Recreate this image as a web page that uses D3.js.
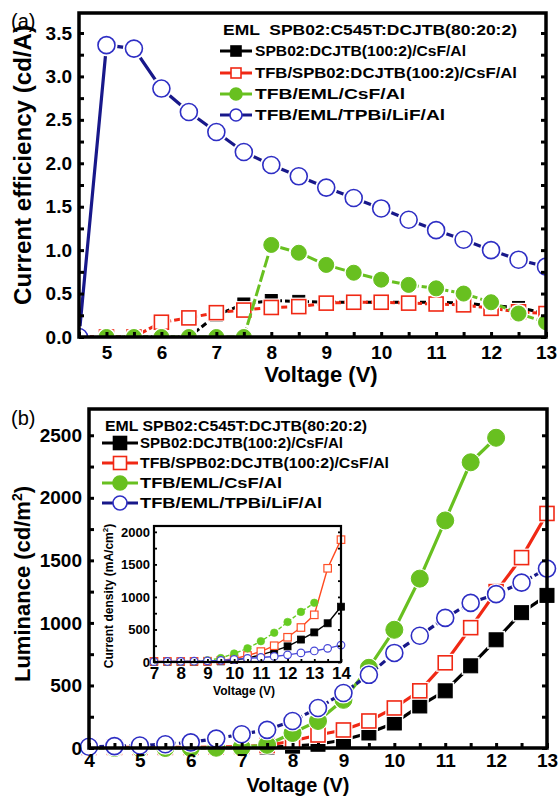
<!DOCTYPE html>
<html><head><meta charset="utf-8">
<script src="https://cdn.jsdelivr.net/npm/d3@7"></script>
<style>
body{margin:0;background:#fff;}
text{font-family:"Liberation Sans",Arial,Helvetica,sans-serif;}
</style></head><body>
<svg id="c" width="558" height="797" xmlns="http://www.w3.org/2000/svg"></svg>
<script>
// ---------- DATA ----------
const seriesNames = ["SPB02:DCJTB(100:2)/CsF/Al","TFB/SPB02:DCJTB(100:2)/CsF/Al","TFB/EML/CsF/Al","TFB/EML/TPBi/LiF/Al"];
const seriesNamesB = ["SPB02:DCJTB(100:2)/CsF/Al","TFB/SPB02:DCJTB(100:2)/CsF/Al","TFB/EML/CsF/Al","TFB/EML/TPBi/LiF/Al"];
const emlTitleA = "EML  SPB02:C545T:DCJTB(80:20:2)";
const emlTitleB = "EML SPB02:C545T:DCJTB(80:20:2)";

// (a) current efficiency (cd/A) vs voltage
const voltageA = [4.5,5,5.5,6,6.5,7,7.5,8,8.5,9,9.5,10,10.5,11,11.5,12,12.5,13];
const ceBlack = [0,0,0,0,0,0.25,0.38,0.42,0.41,0.40,0.40,0.40,0.40,0.40,0.39,0.36,0.34,0.27];
const ceRed   = [0,0,0,0.17,0.22,0.28,0.31,0.34,0.35,0.39,0.40,0.40,0.39,0.38,0.37,0.33,0.29,0.27];
const ceGreen = [null,0,0,0,0,0,0,1.06,0.97,0.83,0.74,0.66,0.60,0.56,0.50,0.40,0.27,0.17];
const ceBlue  = [0,3.36,3.32,2.86,2.59,2.36,2.13,1.98,1.85,1.72,1.60,1.48,1.35,1.23,1.12,1.00,0.89,0.81];
const ticksAX = [5,6,7,8,9,10,11,12,13];
const ticksAY = [0,0.5,1.0,1.5,2.0,2.5,3.0,3.5];

// (b) luminance (cd/m2) vs voltage
const voltageB = [4,4.5,5,5.5,6,6.5,7,7.5,8,8.5,9,9.5,10,10.5,11,11.5,12,12.5,13];
const lumBlack = [2,2,2,2,3,3,5,5,15,30,64,120,200,336,457,657,865,1082,1220];
const lumRed   = [5,5,5,5,5,8,12,20,56,104,144,216,320,457,681,962,1250,1522,1875];
const lumGreen = [0,0,0,0,0,2,5,25,120,216,385,641,945,1354,1819,2284,2480,null,null];
const lumBlue  = [10,15,20,30,45,75,110,145,216,320,440,585,760,897,1040,1160,1230,1322,1434];
const ticksBX = [4,5,6,7,8,9,10,11,12,13];
const ticksBY = [0,500,1000,1500,2000,2500];

// inset: current density (mA/cm2) vs voltage
const voltageI = [7,7.5,8,8.5,9,9.5,10,10.5,11,11.5,12,12.5,13,13.5,14];
const jBlack = [0,0,0,0,5,10,30,60,110,170,240,345,455,595,850];
const jRed   = [10,10,10,10,12,25,50,100,160,250,380,530,725,1440,1880];
const jGreen = [5,5,5,10,25,60,130,210,320,450,615,770,910,null,null];
const jBlue  = [5,8,10,12,18,25,40,55,70,85,110,140,170,210,260];
const ticksIX = [7,8,9,10,11,12,13,14];
const ticksIY = [0,500,1000,1500,2000];

// ---------- STYLE ----------
const COL = {black:"#000000", red:"#f02814", green:"#68c020", blue:"#2e2ec4", navy:"#18188a"};
const svg = d3.select("#c");
const FONT = '"Liberation Sans",Arial,Helvetica,sans-serif';

function range(a,b,s){const r=[];for(let v=a;v<=b+1e-9;v+=s)r.push(+v.toFixed(4));return r;}
function zip(xs,ys){return xs.map((x,i)=>({x:x,y:ys[i]}));}

function marker(g, type, cx, cy, size, color, sw, halo){
  if(type==="sq"||type==="osq"){
    if(halo) g.append("rect").attr("x",cx-size/2-halo).attr("y",cy-size/2-halo).attr("width",size+2*halo).attr("height",size+2*halo).attr("fill","#fff");
    g.append("rect").attr("x",cx-size/2).attr("y",cy-size/2).attr("width",size).attr("height",size)
      .attr("fill",type==="sq"?color:"#fff").attr("stroke",color).attr("stroke-width",sw);
  } else {
    if(halo) g.append("circle").attr("cx",cx).attr("cy",cy).attr("r",size+halo).attr("fill","#fff");
    g.append("circle").attr("cx",cx).attr("cy",cy).attr("r",size)
      .attr("fill",type==="dot"?color:"#fff").attr("stroke",color).attr("stroke-width",sw);
  }
}

function drawSeries(g, x, y, pts, s){
  const line = d3.line().defined(d=>d.y!=null).x(d=>x(d.x)).y(d=>y(d.y));
  g.append("path").datum(pts).attr("d",line).attr("fill","none")
    .attr("stroke",s.lineColor).attr("stroke-width",s.lw)
    .attr("stroke-dasharray",s.dash||null);
  const mg = g.append("g");
  pts.filter(d=>d.y!=null).forEach(d=>marker(mg,s.type,x(d.x),y(d.y),s.size,s.color,s.sw,s.halo));
}

function axes(g, x, y, o){
  const bx = d3.axisBottom(x).tickValues(o.xAll).tickSize(-o.tl).tickPadding(o.xpad)
    .tickFormat(d=>o.xLab.includes(d)?d:"");
  const gb = g.append("g").attr("transform",`translate(0,${y.range()[0]})`).call(bx);
  const ly = d3.axisLeft(y).tickValues(o.yAll).tickSize(-o.tl).tickPadding(o.ypad)
    .tickFormat(d=>o.yLab.includes(d)?o.yFmt(d):"");
  const gl = g.append("g").attr("transform",`translate(${x.range()[0]},0)`).call(ly);
  const ry = d3.axisRight(y).tickValues(o.yAll).tickSize(-o.tl).tickFormat("");
  const gr = g.append("g").attr("transform",`translate(${x.range()[1]},0)`).call(ry);
  [gb,gl,gr].forEach(a=>{
    a.select(".domain").remove();
    a.selectAll(".tick line").attr("stroke","#000").attr("stroke-width",o.tw);
  });
  gb.selectAll("text").attr("font-size",o.xfs).attr("font-weight","bold").attr("font-family",FONT).attr("fill","#000");
  gl.selectAll("text").attr("font-size",o.yfs).attr("font-weight","bold").attr("font-family",FONT).attr("fill","#000");
  g.append("rect").attr("x",x.range()[0]).attr("y",y.range()[1])
    .attr("width",x.range()[1]-x.range()[0]).attr("height",y.range()[0]-y.range()[1])
    .attr("fill","none").attr("stroke","#000").attr("stroke-width",o.fw);
}

function legend(g, o){
  g.append("text").attr("x",o.x0).attr("y",o.titleY).attr("font-size",o.fs).attr("font-weight","bold")
    .attr("textLength",o.titleLen).attr("lengthAdjust","spacingAndGlyphs").style("white-space","pre").text(o.title);
  o.items.forEach((it,i)=>{
    const cy = o.rowY[i];
    g.append("line").attr("x1",o.lx1).attr("x2",o.lx2).attr("y1",cy).attr("y2",cy)
      .attr("stroke",it.lineColor).attr("stroke-width",3);
    marker(g,it.type,(o.lx1+o.lx2)/2,cy,it.type.includes("sq")?o.sq:o.r,it.color,1.6,0);
    g.append("text").attr("x",o.tx).attr("y",cy+o.fs*0.36).attr("font-size",o.fs).attr("font-weight","bold")
      .attr("textLength",o.lens[i]).attr("lengthAdjust","spacingAndGlyphs").text(it.name);
  });
}

// ---------- PANEL (a) ----------
{
  const x = d3.scaleLinear().domain([4.5,13]).range([79,546]);
  const y = d3.scaleLinear().domain([0,3.73]).range([337,13]);
  const g = svg.append("g");
  svg.append("defs").append("clipPath").attr("id","clipA").append("rect")
    .attr("x",79).attr("y",13).attr("width",467).attr("height",324);
  const dg = g.append("g").attr("clip-path","url(#clipA)");
  drawSeries(dg,x,y,zip(voltageA,ceBlack),{type:"sq",size:12,color:COL.black,lineColor:COL.black,lw:3,sw:1,halo:2,dash:"6,3"});
  drawSeries(dg,x,y,zip(voltageA,ceRed),{type:"osq",size:14,color:COL.red,lineColor:COL.red,lw:3,sw:1.6,halo:2,dash:"6,3"});
  drawSeries(dg,x,y,zip(voltageA,ceGreen),{type:"dot",size:7.5,color:COL.green,lineColor:COL.green,lw:3,sw:1,halo:2,dash:"12,3"});
  drawSeries(dg,x,y,zip(voltageA,ceBlue),{type:"circ",size:8.5,color:COL.blue,lineColor:COL.navy,lw:3.2,sw:1.6,halo:2.5});
  axes(g,x,y,{xAll:range(4.5,13,0.5),xLab:ticksAX,yAll:range(0,3.5,0.25),yLab:ticksAY,
    yFmt:d3.format(".1f"),tl:5,tw:3,xpad:9,ypad:7,xfs:19,yfs:19,fw:3.5});
  legend(g,{x0:223,titleY:35,fs:15,title:emlTitleA,titleLen:294,lx1:220,lx2:252,tx:255,
    rowY:[51,73,94,115],sq:10,r:6,lens:[211,262,150,190],
    items:[
      {name:seriesNames[0],type:"sq",color:COL.black,lineColor:COL.black},
      {name:seriesNames[1],type:"osq",color:COL.red,lineColor:COL.red},
      {name:seriesNames[2],type:"dot",color:COL.green,lineColor:COL.green},
      {name:seriesNames[3],type:"circ",color:COL.blue,lineColor:COL.navy}]});
  svg.append("text").attr("x",11).attr("y",28).attr("font-size",20).text("(a)");
  svg.append("text").attr("transform","translate(31,165) rotate(-90)").attr("text-anchor","middle")
    .attr("font-size",24).attr("font-weight","bold").attr("textLength",280).attr("lengthAdjust","spacingAndGlyphs")
    .text("Current efficiency (cd/A)");
  svg.append("text").attr("x",321).attr("y",382).attr("text-anchor","middle")
    .attr("font-size",22).attr("font-weight","bold").text("Voltage (V)");
}

// ---------- PANEL (b) ----------
{
  const x = d3.scaleLinear().domain([4,13]).range([89,547]);
  const y = d3.scaleLinear().domain([0,2710]).range([748,409]);
  const g = svg.append("g");
  const dg = g.append("g");
  drawSeries(dg,x,y,zip(voltageB,lumBlack),{type:"sq",size:14,color:COL.black,lineColor:COL.black,lw:3.2,sw:1,halo:2});
  drawSeries(dg,x,y,zip(voltageB,lumRed),{type:"osq",size:14,color:COL.red,lineColor:COL.red,lw:3.2,sw:1.6,halo:2});
  drawSeries(dg,x,y,zip(voltageB,lumGreen),{type:"dot",size:8.5,color:COL.green,lineColor:COL.green,lw:3.2,sw:1,halo:1.5});
  drawSeries(dg,x,y,zip(voltageB,lumBlue),{type:"circ",size:8.5,color:COL.blue,lineColor:COL.navy,lw:3.2,sw:1.6,halo:2,dash:"7,3"});
  axes(g,x,y,{xAll:range(4,13,0.5),xLab:ticksBX,yAll:range(0,2500,250),yLab:ticksBY,
    yFmt:d=>d,tl:5,tw:3,xpad:6,ypad:7,xfs:19,yfs:19,fw:3.5});
  legend(g,{x0:105,titleY:431,fs:15,title:emlTitleB,titleLen:262,lx1:102,lx2:138,tx:140,
    rowY:[443,463,483,503],sq:13,r:7,lens:[203,249,142,182],
    items:[
      {name:seriesNamesB[0],type:"sq",color:COL.black,lineColor:COL.black},
      {name:seriesNamesB[1],type:"osq",color:COL.red,lineColor:COL.red},
      {name:seriesNamesB[2],type:"dot",color:COL.green,lineColor:COL.green},
      {name:seriesNamesB[3],type:"circ",color:COL.blue,lineColor:COL.navy}]});
  svg.append("text").attr("x",11).attr("y",425).attr("font-size",20).text("(b)");
  const yt = svg.append("text").attr("transform","translate(30,584) rotate(-90)").attr("text-anchor","middle")
    .attr("font-size",22).attr("font-weight","bold");
  yt.append("tspan").text("Luminance (cd/m");
  yt.append("tspan").attr("dy",-8).attr("font-size",14).text("2");
  yt.append("tspan").attr("dy",8).text(")");
  svg.append("text").attr("x",298).attr("y",792).attr("text-anchor","middle")
    .attr("font-size",20).attr("font-weight","bold").text("Voltage (V)");

  // ---------- INSET ----------
  const xi = d3.scaleLinear().domain([7,14]).range([154,341]);
  const yi = d3.scaleLinear().domain([0,2090]).range([662,526]);
  const ig = svg.append("g");
  ig.append("rect").attr("x",154).attr("y",526).attr("width",187).attr("height",136).attr("fill","#fff");
  drawSeries(ig,xi,yi,zip(voltageI,jBlack),{type:"sq",size:7,color:COL.black,lineColor:COL.black,lw:1.4,sw:0.8,halo:0});
  drawSeries(ig,xi,yi,zip(voltageI,jRed),{type:"osq",size:7.5,color:"#ff5028",lineColor:"#ff4a20",lw:1.4,sw:1.2,halo:0});
  drawSeries(ig,xi,yi,zip(voltageI,jGreen),{type:"dot",size:3.8,color:"#66cc22",lineColor:"#66cc22",lw:1.4,sw:0.6,halo:0,dash:"4,2"});
  drawSeries(ig,xi,yi,zip(voltageI,jBlue),{type:"circ",size:3.8,color:"#4848d8",lineColor:"#4848d8",lw:1.4,sw:1.2,halo:0});
  axes(ig,xi,yi,{xAll:range(7,14,0.5),xLab:ticksIX,yAll:range(0,2000,250),yLab:ticksIY,
    yFmt:d=>d,tl:3,tw:1.8,xpad:5,ypad:4,xfs:17,yfs:13,fw:2.2});
  svg.append("text").attr("x",244).attr("y",695).attr("text-anchor","middle")
    .attr("font-size",12).attr("font-weight","bold").text("Voltage (V)");
  const it = svg.append("text").attr("transform","translate(113,596) rotate(-90)").attr("text-anchor","middle")
    .attr("font-size",12).attr("font-weight","bold");
  it.append("tspan").text("Current density (mA/cm");
  it.append("tspan").attr("dy",-5).attr("font-size",8).text("2");
  it.append("tspan").attr("dy",5).text(")");
}
</script>
</body></html>
